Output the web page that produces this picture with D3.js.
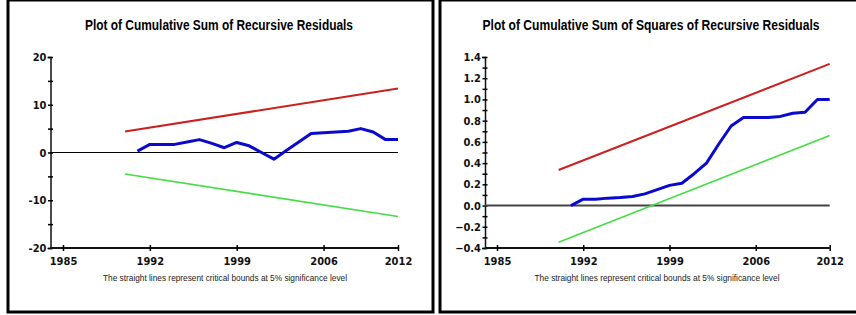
<!DOCTYPE html>
<html>
<head>
<meta charset="utf-8">
<script src="https://cdn.jsdelivr.net/npm/d3@7"></script>
<style>
  body { margin: 0; background: #fff; }
  svg { display: block; }
  .tick text { font-family: "Liberation Sans Narrow", "DejaVu Sans Condensed", Arial, sans-serif; font-weight: bold; font-size: 11px; fill: #111; }
</style>
</head>
<body>
<div id="chart"></div>
<script>
// years on the x axis
const yearTicks = [1985, 1992, 1999, 2006, 2012]
const residYears = [1991, 1992, 1993, 1994, 1995, 1996, 1997, 1998, 1999, 2000, 2001,
  2002, 2003, 2004, 2005, 2006, 2007, 2008, 2009, 2010, 2011, 2012]

// CUSUM panel
const cusum = [0.3, 1.7, 1.7, 1.7, 2.2, 2.7, 1.9, 1.0, 2.1, 1.4, 0.0,
  -1.4, 0.4, 2.2, 4.0, 4.15, 4.3, 4.45, 5.0, 4.3, 2.7, 2.7]
const cusumUpper = [{ year: 1990, v: 4.4 }, { year: 2012, v: 13.4 }]
const cusumLower = [{ year: 1990, v: -4.5 }, { year: 2012, v: -13.4 }]

// CUSUM of squares panel
const cusumSq = [0.0, 0.06, 0.06, 0.07, 0.075, 0.085, 0.11, 0.15, 0.19, 0.21, 0.30,
  0.40, 0.58, 0.75, 0.83, 0.83, 0.83, 0.84, 0.87, 0.88, 1.0, 1.0]
const sqUpper = [{ year: 1990, v: 0.335 }, { year: 2012, v: 1.335 }]
const sqLower = [{ year: 1990, v: -0.345 }, { year: 2012, v: 0.66 }]

const note = 'The straight lines represent critical bounds at 5% significance level'

const svg = d3.select('#chart').append('svg').attr('width', 856).attr('height', 315)

function drawPanel(p) {
  const g = svg.append('g')

  // frame
  g.append('rect')
    .attr('x', p.box[0]).attr('y', p.box[1])
    .attr('width', p.box[2]).attr('height', p.box[3])
    .attr('fill', '#fff').attr('stroke', '#000').attr('stroke-width', 3)

  g.append('text')
    .attr('x', p.titleX).attr('y', 30)
    .attr('text-anchor', 'middle')
    .attr('font-family', 'Arial, "Liberation Sans", sans-serif')
    .attr('font-weight', 'bold').attr('font-size', 14)
    .attr('textLength', p.titleW).attr('lengthAdjust', 'spacingAndGlyphs')
    .text(p.title)

  const x = d3.scaleLinear().domain([1985, 2012]).range(p.xRange)
  const y = d3.scaleLinear().domain(p.yDomain).range([248, 57])

  // y axis with crossing ticks
  const yAxis = g.append('g')
    .attr('transform', `translate(${p.axisX},0)`)
    .call(d3.axisLeft(y).tickValues(p.yTicks).tickSize(3).tickFormat(p.yFormat))
  yAxis.select('.domain').attr('stroke', '#111').attr('stroke-width', 1.5)
  yAxis.selectAll('.tick line').attr('x1', 2.5).attr('x2', -2.5).attr('stroke-width', 1.5)
  yAxis.selectAll('.tick text').attr('x', -4)

  // x axis
  const xAxis = g.append('g')
    .attr('transform', 'translate(0,248)')
    .call(d3.axisBottom(x).tickValues(yearTicks).tickSize(3).tickFormat(d3.format('d')))
  xAxis.select('.domain').attr('d', `M${p.axisX},0H${x(2012)}`).attr('stroke', '#111').attr('stroke-width', 2)
  xAxis.selectAll('.tick line').attr('y1', -3).attr('y2', 3).attr('stroke-width', 1.5)
  xAxis.selectAll('.tick text').attr('y', 9)

  // zero reference line
  g.append('line')
    .attr('x1', p.axisX).attr('x2', x(2012))
    .attr('y1', y(0)).attr('y2', y(0))
    .attr('stroke', p.zeroColor).attr('stroke-width', p.zeroWidth)

  const bound = d3.line().x(d => x(d.year)).y(d => y(d.v))
  g.append('path').datum(p.upper).attr('d', bound)
    .attr('fill', 'none').attr('stroke', '#cc2020').attr('stroke-width', 2)
  g.append('path').datum(p.lower).attr('d', bound)
    .attr('fill', 'none').attr('stroke', '#44dd44').attr('stroke-width', 1.6)

  const stat = d3.line().x((d, i) => x(residYears[i])).y(d => y(d))
  g.append('path').datum(p.values).attr('d', stat)
    .attr('fill', 'none').attr('stroke', '#0a0acc').attr('stroke-width', 3)
    .attr('stroke-linejoin', 'round')

  g.append('text')
    .attr('x', p.noteX).attr('y', 281)
    .attr('text-anchor', 'middle')
    .attr('font-family', 'Arial, "Liberation Sans", sans-serif')
    .attr('font-size', 9.5).attr('fill', '#222')
    .attr('textLength', p.noteW).attr('lengthAdjust', 'spacingAndGlyphs')
    .text(note)
}

drawPanel({
  box: [8, 0, 425, 312],
  title: 'Plot of Cumulative Sum of Recursive Residuals',
  titleX: 219, titleW: 268,
  xRange: [63, 398], axisX: 50.5,
  yDomain: [-20, 20], yTicks: d3.range(-20, 21, 5),
  yFormat: d => (d % 10 === 0 ? d : ''),
  zeroColor: '#000', zeroWidth: 1.2,
  upper: cusumUpper, lower: cusumLower, values: cusum,
  noteX: 225, noteW: 244
})

drawPanel({
  box: [440, 0, 420, 312],
  title: 'Plot of Cumulative Sum of Squares of Recursive Residuals',
  titleX: 651, titleW: 337,
  xRange: [497, 829.7], axisX: 485,
  yDomain: [-0.4, 1.4], yTicks: d3.range(-4, 15, 1).map(v => v / 10),
  yFormat: d => (Math.round(d * 10) % 2 === 0 ? d3.format('.1f')(d) : ''),
  zeroColor: '#444', zeroWidth: 2,
  upper: sqUpper, lower: sqLower, values: cusumSq,
  noteX: 657, noteW: 245
})
</script>
</body>
</html>
